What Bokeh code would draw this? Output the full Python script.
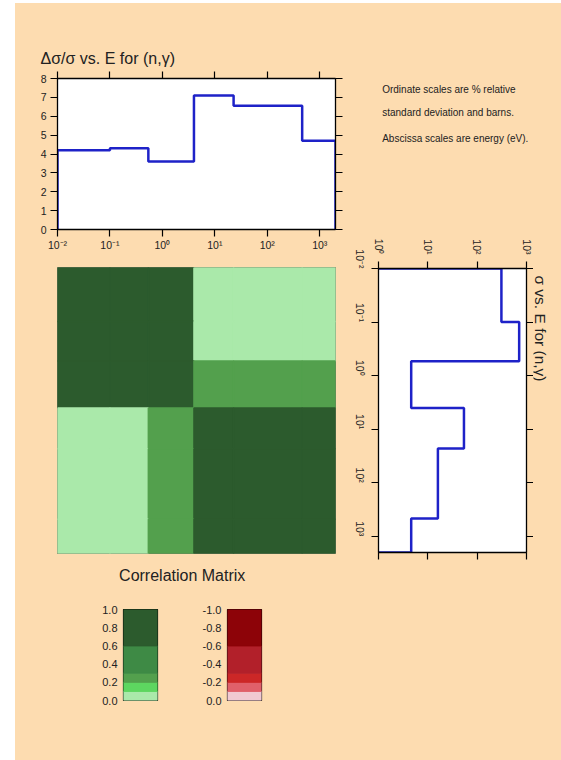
import math
from bokeh.plotting import figure
from bokeh.layouts import row, column
from bokeh.models import (Range1d, FixedTicker, LinearAxis, LogAxis, CustomJSTickFormatter,
                          PrintfTickFormatter, Label, Spacer, LinearColorMapper, ColumnDataSource)
from bokeh.embed import file_html
from bokeh.resources import INLINE

PEACH = "#FDDCB0"
FONT = "Liberation Sans"
TXT = "#222222"
BLUE = "#1E22C8"

# ---------------- data ----------------
energy_bounds = [0.01, 0.1, 0.54, 4.0, 22.8, 463.0, 2000.0]      # group boundaries (eV)
rel_std_dev = [4.2, 4.3, 3.6, 7.1, 6.55, 4.7]                    # % relative std. dev.
cross_section = [310.0, 710.0, 4.6, 54.0, 16.0, 4.6]              # barns
correlation = [
    [1.0, 0.9, 0.9, 0.05, 0.05, 0.05],
    [0.9, 1.0, 0.9, 0.05, 0.05, 0.05],
    [0.9, 0.9, 1.0, 0.25, 0.25, 0.25],
    [0.05, 0.05, 0.25, 1.0, 0.9, 0.9],
    [0.05, 0.05, 0.25, 0.9, 1.0, 0.9],
    [0.05, 0.05, 0.25, 0.9, 0.9, 1.0],
]
energy_decades = [0.01, 0.1, 1, 10, 100, 1000]
sigma_decades = [1, 10, 100, 1000]
sigma_range = [1, 1000]
rsd_range = [0, 8]
rsd_ticks = [0, 1, 2, 3, 4, 5, 6, 7, 8]
green_levels = [0.0, 0.1, 0.2, 0.3, 0.6, 1.0]
green_colors = ["#AAE9AA", "#5DD660", "#53A04D", "#3E8A45", "#2C5B2D"]
red_levels = [0.0, -0.1, -0.2, -0.3, -0.6, -1.0]
red_colors = ["#F1C9D2", "#E0606A", "#CC2727", "#B2202A", "#8D0308"]
pos_ticks = [0.0, 0.2, 0.4, 0.6, 0.8, 1.0]
neg_ticks = [0.0, -0.2, -0.4, -0.6, -0.8, -1.0]
title_top = "\u0394\u03c3/\u03c3 vs. E for (n,\u03b3)"
title_right = "\u03c3 vs. E for (n,\u03b3)"
notes = ["Ordinate scales are % relative", "standard deviation and barns.",
         "Abscissa scales are energy (eV)."]
matrix_title = "Correlation Matrix"

E_MIN, E_MAX = energy_bounds[0], energy_bounds[-1]

POW_FMT = CustomJSTickFormatter(code=r"""
const sup = {"-": "\u207b", "0": "\u2070", "1": "\u00b9", "2": "\u00b2", "3": "\u00b3",
             "4": "\u2074", "5": "\u2075", "6": "\u2076", "7": "\u2077", "8": "\u2078", "9": "\u2079"};
const e = Math.round(Math.log10(tick));
return "10" + String(e).split("").map((c) => sup[c]).join("");
""")


def style_axis(ax, standoff=3, out=7, size="10.5px", blank=False):
    ax.axis_line_color = "black"
    ax.axis_line_width = 1.3
    ax.major_tick_line_color = "black"
    ax.major_tick_line_width = 1.2
    ax.major_tick_out = out
    ax.major_tick_in = 0
    ax.minor_tick_line_color = None
    ax.major_label_text_font = FONT
    ax.major_label_text_font_size = size
    ax.major_label_text_color = None if blank else TXT
    ax.major_label_standoff = standoff


def base_fig(**kw):
    p = figure(output_backend="svg", toolbar_location=None, border_fill_color=PEACH,
               background_fill_color="white", **kw)
    p.grid.visible = False
    return p


def text_fig(x0, y0, w, h):
    # a blank panel whose data coordinates equal page pixel coordinates
    p = figure(width=w, height=h, x_range=Range1d(x0, x0 + w), y_range=Range1d(y0 + h, y0),
               x_axis_location=None, y_axis_location=None, output_backend="svg",
               toolbar_location=None, min_border=0, border_fill_color=PEACH,
               background_fill_color=PEACH, outline_line_color=None)
    p.grid.visible = False
    return p


def add_text(p, x, y, text, size, align="left", baseline="middle", angle=0.0):
    p.add_layout(Label(x=x, y=y, text=text, angle=angle, text_font=FONT, text_font_size=size,
                       text_color=TXT, text_align=align, text_baseline=baseline))


LEFT_W = 328          # left column: x 15..343
RIGHT_W = 218         # right column: x 343..561

# ---------------- title above top plot ----------------
t1 = text_fig(15, 3, LEFT_W, 65)
add_text(t1, 40, 58, title_top, "16px")

# ---------------- top plot: rel. std. dev. vs E ----------------
p1 = base_fig(width=LEFT_W, height=190, x_axis_type="log",
              x_range=Range1d(E_MIN, E_MAX), y_range=Range1d(*rsd_range),
              min_border_left=42, min_border_right=8, min_border_top=10, min_border_bottom=29)
p1.outline_line_color = "black"
xb = p1.below[0]
xb.ticker = FixedTicker(ticks=energy_decades)
xb.formatter = POW_FMT
style_axis(xb, standoff=2)
yl = p1.left[0]
yl.ticker = FixedTicker(ticks=rsd_ticks)
style_axis(yl, standoff=4)
xa = LogAxis(ticker=FixedTicker(ticks=energy_decades))
style_axis(xa, standoff=0, blank=True)
p1.add_layout(xa, "above")
yr = LinearAxis(ticker=FixedTicker(ticks=rsd_ticks))
style_axis(yr, standoff=0, blank=True)
p1.add_layout(yr, "right")

sx, sy = [energy_bounds[0]], [rsd_range[0]]
for i, v in enumerate(rel_std_dev):
    sx += [energy_bounds[i], energy_bounds[i + 1]]
    sy += [v, v]
sx.append(energy_bounds[-1]); sy.append(rsd_range[0])
p1.line(sx, sy, line_color=BLUE, line_width=2.5)

# ---------------- correlation matrix ----------------
palette = []
for k in range(10):
    v = (k + 0.5) / 10
    for i in range(len(green_colors)):
        if green_levels[i] <= v < green_levels[i + 1]:
            palette.append(green_colors[i])
            break
mapper = LinearColorMapper(palette=palette, low=0.0, high=1.0)
L, R, T, B, V = [], [], [], [], []
for i in range(6):
    for j in range(6):
        L.append(energy_bounds[j]); R.append(energy_bounds[j + 1])
        T.append(energy_bounds[i]); B.append(energy_bounds[i + 1])
        V.append(correlation[i][j])
src = ColumnDataSource(dict(left=L, right=R, top=T, bottom=B, val=V))
p2 = base_fig(width=LEFT_W, height=298, x_axis_type="log", y_axis_type="log",
              x_axis_location=None, y_axis_location=None,
              x_range=Range1d(E_MIN, E_MAX), y_range=Range1d(E_MAX, E_MIN),
              min_border_left=42, min_border_right=7, min_border_top=9, min_border_bottom=3)
p2.outline_line_color = "#3a4a30"
p2.outline_line_alpha = 0.7
p2.quad(left="left", right="right", top="top", bottom="bottom", source=src,
        fill_color={"field": "val", "transform": mapper},
        line_color={"field": "val", "transform": mapper}, line_width=1.5)

t2 = text_fig(15, 556, LEFT_W, 39)
add_text(t2, 181.7, 575, matrix_title, "16px", align="center")

# ---------------- legend bars ----------------
def legend_fig(levels, colors, ticks, yr_, width, left, right):
    p = base_fig(width=width, height=165, x_axis_location=None,
                 x_range=Range1d(0, 1), y_range=yr_,
                 min_border_left=left, min_border_right=right, min_border_top=14, min_border_bottom=60)
    p.outline_line_color = "black"
    p.outline_line_width = 1.2
    p.quad(left=0, right=1, bottom=levels[:-1], top=levels[1:], fill_color=colors, line_color=colors)
    ax = p.left[0]
    ax.ticker = FixedTicker(ticks=ticks)
    ax.formatter = PrintfTickFormatter(format="%.1f")
    style_axis(ax, standoff=6, out=0, size="11px")
    ax.axis_line_color = None
    ax.major_tick_line_color = None
    return p

pg = legend_fig(green_levels, green_colors, pos_ticks, Range1d(0, 1), 155, 108, 13)
pr = legend_fig(red_levels, red_colors, neg_ticks, Range1d(0, -1), LEFT_W - 155, 57, LEFT_W - 155 - 57 - 34)

# ---------------- notes ----------------
t3 = text_fig(343, 3, RIGHT_W, 222)
for t, yy in zip(notes, [89, 111.7, 138.3]):
    add_text(t3, 381.7, yy, t, "10px")

# ---------------- right plot: sigma vs E (rotated) ----------------
p3 = base_fig(width=190, height=535, x_axis_type="log", y_axis_type="log",
              x_axis_location="above",
              x_range=Range1d(*sigma_range), y_range=Range1d(E_MAX, E_MIN),
              min_border_left=35, min_border_right=7, min_border_top=43, min_border_bottom=208)
p3.outline_line_color = "black"
ta = p3.above[0]
ta.ticker = FixedTicker(ticks=sigma_decades)
ta.formatter = POW_FMT
style_axis(ta, standoff=7)
ta.major_label_orientation = -math.pi / 2
la = p3.left[0]
la.ticker = FixedTicker(ticks=energy_decades)
la.formatter = POW_FMT
style_axis(la, standoff=12)
la.major_label_orientation = -math.pi / 2
ba = LogAxis(ticker=FixedTicker(ticks=sigma_decades))
style_axis(ba, standoff=0, blank=True)
p3.add_layout(ba, "below")
ra = LogAxis(ticker=FixedTicker(ticks=energy_decades))
style_axis(ra, standoff=0, blank=True)
p3.add_layout(ra, "right")

qx, qy = [sigma_range[0]], [energy_bounds[0]]
for i, v in enumerate(cross_section):
    qx += [v, v]
    qy += [energy_bounds[i], energy_bounds[i + 1]]
qx.append(sigma_range[0]); qy.append(energy_bounds[-1])
p3.line(qx, qy, line_color=BLUE, line_width=2.5)

t4 = text_fig(533, 225, 28, 535)
add_text(t4, 540, 275, title_right, "15.5px", align="left", baseline="middle", angle=-math.pi / 2)

# ---------------- layout ----------------
BG = {"background-color": PEACH}
legend_row = row(pg, pr, spacing=0, styles=BG)
left_col = column(row(t1), p1, p2, row(t2), legend_row, spacing=0, styles=BG)
right_col = column(t3, row(p3, column(t4), spacing=0, styles=BG), spacing=0, styles=BG)
page = column(Spacer(width=561, height=3),
              row(Spacer(width=15, height=757), left_col, right_col, spacing=0),
              spacing=0)

with open("out.html", "w", encoding="utf-8") as f:
    f.write(file_html(page, INLINE))
